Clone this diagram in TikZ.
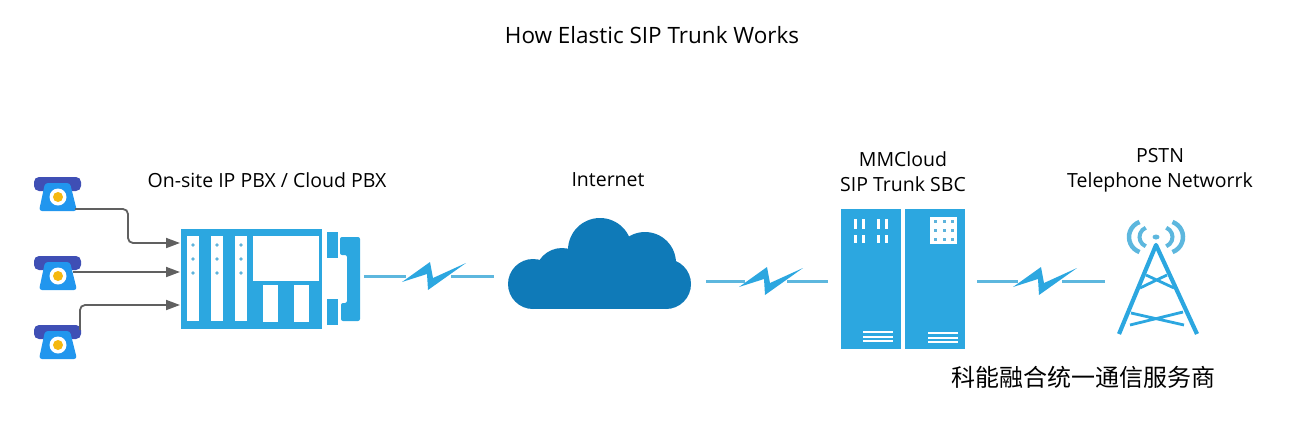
\documentclass[tikz,border=0pt]{standalone}
\usepackage{fontspec}
\setmainfont{Open Sans}
\newfontfamily\cjkfont{Noto Sans CJK SC}
\usepackage{xcolor}
\usetikzlibrary{positioning,arrows.meta}

\definecolor{panelblue}{HTML}{2CA7E0}
\definecolor{dotblue}{HTML}{5FB4DC}
\definecolor{cloudblue}{HTML}{0F7AB8}
\definecolor{linkblue}{HTML}{5DB7DE}
\definecolor{phonedark}{HTML}{3F4FB5}
\definecolor{phoneblue}{HTML}{2196EE}
\definecolor{phoneyellow}{HTML}{F5B810}
\definecolor{wiregray}{HTML}{606060}

\begin{document}
\begin{tikzpicture}[
    x=1pt, y=-1pt,
    holder/.style={
        minimum width=#1,
        inner sep=0pt,
        outer sep=0pt
    },
    label/.style={
        font=\fontsize{19.5}{25}\selectfont,
        align=center,
        text=black
    },
    wire/.style={
        -{Triangle[length=14pt,width=10pt]},
        draw=wiregray,
        line width=1.8pt,
        rounded corners=5pt
    },
    link/.style={draw=linkblue, line width=3pt},
    telephone/.pic={
        \fill[phonedark, rounded corners=5pt] (-24,-20) rectangle (23,-6);
        \fill[phoneblue, rounded corners=3pt] (-13,-14) -- (12,-14) -- (19,14) -- (-19,14) -- cycle;
        \fill[white] (0,0) circle (8.5);
        \fill[phoneyellow] (0,0) circle (5);
    },
    bolt/.pic={
        \fill[panelblue] (-32,6) -- (-4,-14) -- (-1,2) -- (32,-13) -- (-6,14) -- (-7,-2) -- cycle;
    }
]
\useasboundingbox (0,0) rectangle (1300,432);

\node[font=\fontsize{22.5}{27}\selectfont, text=black] (title) at (652,35) {How Elastic SIP Trunk Works};

% phones
\node[holder=48pt, minimum height=34pt] (phonea) at (58,194) {};
\node[holder=48pt, minimum height=34pt] (phoneb) at (58,273) {};
\node[holder=48pt, minimum height=34pt] (phonec) at (58,342) {};
\pic at (58,197) {telephone};
\pic at (58,276) {telephone};
\pic at (58,345) {telephone};

% pbx
\node[holder=141pt, minimum height=100pt, fill=panelblue] (pbx) at (251.5,279) {};
\foreach \x in {187,211,235} {
    \fill[white] (\x,236) rectangle ++(12,85);
    \foreach \y in {245,259,273}
        \fill[dotblue] (\x+6,\y) circle (1.8);
}
\fill[white] (253,236) rectangle (319,281);
\fill[white] (263,285) rectangle (278,322);
\fill[white] (294,285) rectangle (309,322);
\fill[panelblue] (327,232) rectangle (338,258);
\fill[panelblue] (327,299) rectangle (338,325);
\fill[panelblue, rounded corners=2pt] (340,237) -- (360,237) -- (360,321) -- (341,321) -- (341,303) -- (347,303) -- (347,255) -- (340,255) -- cycle;
\node[label] (pbxlabel) at (267,180) {On-site IP PBX / Cloud PBX};

\coordinate (pbxa) at (180,243);
\coordinate (pbxb) at (180,272);
\coordinate (pbxc) at (180,305);
\coordinate (phoneaout) at (75,209);
\coordinate (phonebout) at (73,272);
\coordinate (phonecout) at (80,330);
\draw[wire] (phoneaout) -| (128,226) |- (pbxa);
\draw[wire] (phonebout) -- (pbxb);
\draw[wire] (phonecout) |- (pbxc);

% cloud
\node[holder=182pt, minimum height=91pt] (cloud) at (600,263.5) {};
\fill[cloudblue] (600,250) circle (32);
\fill[cloudblue] (645,263) circle (31);
\fill[cloudblue] (562,275) circle (27);
\fill[cloudblue] (533,284) circle (25);
\fill[cloudblue] (666,284) circle (25);
\fill[cloudblue] (533,265) rectangle (666,309);
\node[label] (cloudlabel) at (608,180) {Internet};

% server
\node[holder=60pt, minimum height=140pt, fill=panelblue] (sbcleft) at (871,279) {};
\node[holder=60pt, minimum height=140pt, fill=panelblue] (sbcright) at (935,279) {};
\foreach \x in {854,862,877,885} {
    \fill[white] (\x,219) rectangle ++(3,10);
    \fill[white] (\x,235) rectangle ++(3,8);
}
\fill[white] (930,217) rectangle (957,244);
\foreach \x in {935,944,952}
    \foreach \y in {221,230,239}
        \fill[dotblue] (\x-1.5,\y-1.5) rectangle ++(3,3);
\foreach \y in {332,337,341} {
    \fill[white] (863,\y-1) rectangle (893,\y+1);
    \fill[white] (928,\y-0.4) rectangle (958,\y+1.6);
}
\node[label] (sbclabel) at (903,171.5) {MMCloud\\SIP Trunk SBC};

% tower
\node[holder=78pt, minimum height=89pt] (tower) at (1158,289.5) {};
\fill[linkblue] (1156,237) ellipse (3.5 and 2.5);
\draw[linkblue, line width=4.5pt] (1145,237) ++(110:16) arc[start angle=110, end angle=250, radius=16];
\draw[linkblue, line width=4.5pt] (1167,237) ++(-70:16) arc[start angle=-70, end angle=70, radius=16];
\draw[linkblue, line width=4pt] (1149.5,237) ++(112:10) arc[start angle=112, end angle=248, radius=10];
\draw[linkblue, line width=4pt] (1162.5,237) ++(-68:10) arc[start angle=-68, end angle=68, radius=10];
\draw[panelblue, line width=4.2pt, line join=round] (1119,334) -- (1156,245) -- (1197,334);
\draw[panelblue, line width=2.8pt] (1146,275) -- (1174,288) (1167,275) -- (1140,288);
\draw[panelblue, line width=2.8pt] (1131,313) -- (1184,325) (1183,312) -- (1130,325);
\node[label] (towerlabel) at (1160,170) {PSTN\\Telephone Networrk};

% links
\node[holder=45pt, minimum height=28pt] (bolta) at (428.5,276) {};
\node[holder=42pt, minimum height=28pt] (boltb) at (766,281) {};
\node[holder=44pt, minimum height=28pt] (boltc) at (1040,281) {};
\pic at (434,276) {bolt};
\pic at (771,281) {bolt};
\pic at (1045,281) {bolt};
\coordinate (pbxport) at (364,276);
\coordinate (cloudin) at (494,276);
\coordinate (cloudout) at (706,281);
\coordinate (sbcin) at (828,281);
\coordinate (sbcout) at (977,281);
\coordinate (towerin) at (1105,281);
\draw[link] (pbxport) -- (bolta.west);
\draw[link] (bolta.east) -- (cloudin);
\draw[link] (cloudout) -- (boltb.west);
\draw[link] (boltb.east) -- (sbcin);
\draw[link] (sbcout) -- (boltc.west);
\draw[link] (boltc.east) -- (towerin);

\node[font=\fontsize{24}{28}\cjkfont\selectfont, text=black] (vendor) at (1083,377) {科能融合统一通信服务商};
\end{tikzpicture}
\end{document}
